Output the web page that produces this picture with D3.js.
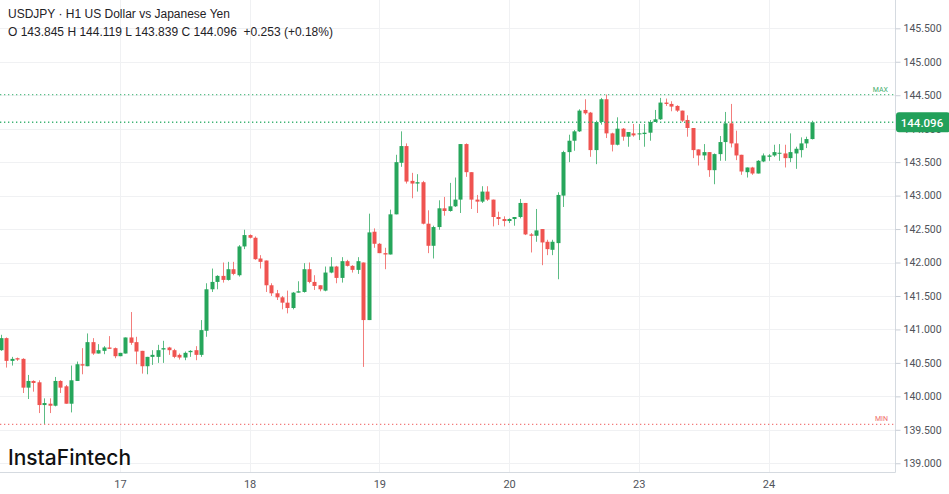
<!DOCTYPE html>
<html>
<head>
<meta charset="utf-8">
<script src="https://cdn.jsdelivr.net/npm/d3@7"></script>
<style>
  html, body { margin: 0; padding: 0; background: #ffffff; }
  svg { display: block; }
</style>
</head>
<body>
<svg id="chart" width="949" height="494"></svg>
<script>
// ---- DATA (USDJPY H1 candles) ----
const openP = [
140.69,140.87,140.53,140.57,140.56,140.13,140.23,140.21,139.87,139.89,
139.86,140.23,140.15,139.89,140.23,140.48,140.45,140.81,140.64,140.68,
140.73,140.72,140.60,140.64,140.88,140.81,140.68,140.45,140.59,140.59,
140.70,140.73,140.69,140.62,140.58,140.66,140.69,140.62,140.98,141.60,
141.71,141.80,141.74,141.90,141.81,142.24,142.41,142.37,142.06,142.03,
141.66,141.54,141.48,141.40,141.32,141.55,141.56,141.90,141.71,141.66,
141.58,141.85,141.94,141.77,142.02,141.95,141.89,142.00,141.14,142.46,
142.28,142.14,142.12,142.72,143.49,143.74,143.22,143.18,143.20,142.58,
142.25,142.53,142.81,142.77,142.84,142.94,143.77,143.35,142.94,142.91,
143.06,142.94,142.68,142.65,142.62,142.65,142.68,142.89,142.42,142.40,
142.50,142.31,142.19,142.29,143.00,143.65,143.82,143.96,144.28,144.24,
143.68,144.10,144.44,143.93,143.76,144.00,143.88,143.93,143.92,143.92,
143.94,144.10,144.14,144.39,144.37,144.34,144.27,144.13,144.01,143.69,
143.60,143.65,143.38,143.62,143.80,144.08,143.78,143.61,143.35,143.42,
143.33,143.51,143.58,143.60,143.63,143.63,143.56,143.63,143.68,143.78,
143.845];
const highP = [
140.92,140.88,140.59,140.58,140.57,140.32,140.24,140.24,139.97,139.97,
140.29,140.24,140.17,140.46,140.52,140.72,140.94,140.87,140.78,140.75,
140.90,140.73,140.65,140.88,141.26,140.89,140.68,140.59,140.69,140.77,
140.83,140.74,140.71,140.64,140.67,140.69,140.75,141.14,141.69,141.91,
141.81,142.00,142.01,142.01,142.26,142.49,142.42,142.39,142.11,142.03,
141.69,141.59,141.50,141.58,141.56,141.72,141.99,142.00,141.81,141.66,
141.94,142.08,141.95,142.08,142.04,141.96,142.08,142.00,142.73,142.51,
142.29,142.22,142.79,143.61,143.96,143.78,143.34,143.32,143.22,142.78,
142.55,142.93,142.98,143.19,143.27,143.77,143.78,143.35,143.01,143.14,
143.14,142.94,142.76,142.69,142.66,142.68,142.95,142.89,142.44,142.80,
142.50,142.34,142.34,143.05,143.67,143.91,143.98,144.29,144.44,144.25,
144.12,144.46,144.51,143.94,144.17,144.01,143.95,144.07,144.07,144.07,
144.13,144.28,144.46,144.45,144.41,144.35,144.27,144.20,144.01,143.69,
143.77,143.65,143.63,143.89,144.25,144.37,143.97,143.61,143.42,143.43,
143.53,143.63,143.62,143.76,143.77,143.76,143.93,143.73,143.87,143.88,
144.119];
const lowP = [
140.68,140.43,140.46,140.53,140.05,139.96,140.07,139.75,139.58,139.75,
139.85,140.05,139.89,139.76,140.23,140.33,140.45,140.62,140.64,140.63,
140.71,140.57,140.60,140.64,140.77,140.48,140.34,140.33,140.47,140.50,
140.50,140.62,140.57,140.55,140.54,140.59,140.54,140.59,140.89,141.56,
141.60,141.70,141.73,141.81,141.79,142.20,142.36,142.04,141.91,141.56,
141.50,141.44,141.30,141.24,141.30,141.55,141.55,141.69,141.59,141.57,
141.57,141.84,141.69,141.70,141.94,141.85,141.83,140.44,141.14,142.22,
142.14,141.90,142.12,142.72,143.43,143.18,142.96,143.06,142.57,142.14,
142.06,142.49,142.70,142.76,142.83,142.74,143.28,142.80,142.74,142.89,
142.92,142.54,142.56,142.54,142.59,142.55,142.66,142.41,142.15,142.31,
141.96,142.11,142.11,141.75,142.83,143.50,143.67,143.95,144.21,143.58,
143.47,144.06,143.86,143.66,143.75,143.82,143.73,143.88,143.83,143.73,
143.82,144.10,144.13,144.34,144.26,144.25,144.10,143.88,143.56,143.45,
143.53,143.28,143.17,143.52,143.52,143.72,143.53,143.31,143.27,143.31,
143.33,143.50,143.52,143.58,143.52,143.42,143.50,143.40,143.57,143.71,
143.839];
const closeP = [
140.87,140.53,140.56,140.55,140.13,140.23,140.20,139.87,139.90,139.86,
140.23,140.13,139.89,140.24,140.48,140.46,140.81,140.64,140.69,140.73,
140.71,140.60,140.65,140.88,140.80,140.67,140.45,140.59,140.62,140.69,
140.72,140.69,140.59,140.58,140.65,140.68,140.62,140.99,141.60,141.71,
141.80,141.74,141.90,141.83,142.24,142.41,142.37,142.05,142.01,141.66,
141.54,141.48,141.40,141.32,141.55,141.57,141.90,141.71,141.65,141.60,
141.85,141.94,141.77,142.02,141.95,141.89,142.02,141.14,142.45,142.28,
142.14,142.12,142.72,143.50,143.74,143.21,143.18,143.20,142.58,142.25,
142.53,142.81,142.77,142.84,142.94,143.77,143.35,142.94,142.91,143.06,
142.94,142.68,142.65,142.62,142.65,142.68,142.89,142.42,142.40,142.48,
142.30,142.20,142.31,143.01,143.65,143.82,143.96,144.27,144.23,143.68,
144.10,144.44,143.93,143.76,144.00,143.88,143.95,143.90,143.93,143.94,
144.10,144.14,144.39,144.37,144.33,144.27,144.12,144.01,143.68,143.60,
143.65,143.38,143.62,143.80,144.08,143.78,143.60,143.36,143.42,143.33,
143.52,143.60,143.60,143.65,143.64,143.56,143.65,143.70,143.78,143.845,
144.096];

// day separators: candle index where each day starts, and its label
const dayStartIndex = [22, 46, 70, 94, 118, 142];
const dayLabels = ["17", "18", "19", "20", "23", "24"];

// price axis ticks
const priceTicks = [139.0,139.5,140.0,140.5,141.0,141.5,142.0,142.5,143.0,143.5,144.0,144.5,145.0,145.5];

const titleText = "USDJPY \u00B7 H1 US Dollar vs Japanese Yen";
const ohlcText = "O 143.845 H 144.119 L 143.839 C 144.096  +0.253 (+0.18%)";
const lastPrice = 144.096;

// ---- LAYOUT ----
const W = 949, H = 494;
const plotRight = 895.5, plotBottom = 472.5;
const GREEN = "#26a65b", RED = "#ef5350";

const svg = d3.select("#chart");

const x = d3.scaleLinear().domain([0, 150]).range([1, 1 + 150 * 5.405]);
const y = d3.scaleLinear().domain([138.862, 145.923]).range([plotBottom, 0]);

// gridlines
const grid = svg.append("g");
grid.selectAll("line.h").data(priceTicks).join("line")
  .attr("x1", 0).attr("x2", plotRight)
  .attr("y1", d => Math.round(y(d)) + 0.5).attr("y2", d => Math.round(y(d)) + 0.5)
  .attr("stroke", "#f0f1f3").attr("stroke-width", 1);
grid.selectAll("line.v").data(dayStartIndex).join("line")
  .attr("x1", d => Math.round(x(d)) + 0.5).attr("x2", d => Math.round(x(d)) + 0.5)
  .attr("y1", 0).attr("y2", plotBottom)
  .attr("stroke", "#f0f1f3").attr("stroke-width", 1);

// candles
const idx = d3.range(openP.length);
const candles = svg.append("g");
candles.selectAll("line.wick").data(idx).join("line")
  .attr("x1", i => Math.round(x(i)) + 0.5).attr("x2", i => Math.round(x(i)) + 0.5)
  .attr("y1", i => y(highP[i])).attr("y2", i => y(lowP[i]))
  .attr("stroke", i => closeP[i] >= openP[i] ? GREEN : RED)
  .attr("stroke-opacity", 0.75)
  .attr("stroke-width", 1);
candles.selectAll("rect.body").data(idx).join("rect")
  .attr("x", i => Math.round(x(i)) + 0.5 - 2)
  .attr("width", 4)
  .attr("y", i => y(Math.max(openP[i], closeP[i])))
  .attr("height", i => Math.max(1, Math.abs(y(openP[i]) - y(closeP[i]))))
  .attr("fill", i => closeP[i] >= openP[i] ? GREEN : RED);

// max / min / last price dotted lines
const maxHigh = d3.max(highP), minLow = d3.min(lowP);
const refs = svg.append("g");
refs.append("line").attr("x1", 0).attr("x2", plotRight)
  .attr("y1", y(maxHigh)).attr("y2", y(maxHigh))
  .attr("stroke", "#5cc08a").attr("stroke-width", 1.2).attr("stroke-dasharray", "1.3,2.7");
refs.append("line").attr("x1", 0).attr("x2", plotRight)
  .attr("y1", y(minLow)).attr("y2", y(minLow))
  .attr("stroke", "#f27b7b").attr("stroke-width", 1.2).attr("stroke-dasharray", "1.3,2.7");
refs.append("line").attr("x1", 0).attr("x2", plotRight)
  .attr("y1", y(lastPrice)).attr("y2", y(lastPrice))
  .attr("stroke", "#3fb374").attr("stroke-width", 1.3).attr("stroke-dasharray", "1.3,2.7");
refs.append("text").attr("x", 888).attr("y", y(maxHigh) - 3)
  .attr("text-anchor", "end").attr("font-family", "Roboto, sans-serif").attr("font-size", 7)
  .attr("fill", "#3fae6d").text("MAX");
refs.append("text").attr("x", 888).attr("y", y(minLow) - 3)
  .attr("text-anchor", "end").attr("font-family", "Roboto, sans-serif").attr("font-size", 7)
  .attr("fill", "#ef6b6b").text("MIN");

// plot borders
svg.append("line").attr("x1", plotRight).attr("x2", plotRight).attr("y1", 0).attr("y2", plotBottom)
  .attr("stroke", "#d5dae0");
svg.append("line").attr("x1", 0).attr("x2", plotRight).attr("y1", plotBottom).attr("y2", plotBottom)
  .attr("stroke", "#d5dae0");

// y axis (right)
const yAxis = d3.axisRight(y).tickValues(priceTicks).tickFormat(d3.format(".3f"))
  .tickSize(5).tickPadding(3);
const gy = svg.append("g").attr("transform", `translate(${plotRight},0)`).call(yAxis);
gy.select(".domain").remove();
gy.selectAll(".tick line").attr("stroke", "#c9ced6");
gy.selectAll(".tick text").attr("font-family", "Roboto, sans-serif").attr("font-size", 10.5)
  .attr("fill", "#50535a");

// x axis (bottom)
const xAxis = d3.axisBottom(x).tickValues(dayStartIndex).tickFormat((d, i) => dayLabels[i])
  .tickSize(0).tickPadding(8);
const gx = svg.append("g").attr("transform", `translate(0,${plotBottom})`).call(xAxis);
gx.select(".domain").remove();
gx.selectAll(".tick text").attr("font-family", "Roboto, sans-serif").attr("font-size", 11)
  .attr("fill", "#50535a");

// last price label
const lp = svg.append("g");
lp.append("rect").attr("x", plotRight + 0.5).attr("y", y(lastPrice) - 10).attr("width", 54).attr("height", 20)
  .attr("rx", 3).attr("fill", "#22a05a");
lp.append("text").attr("x", plotRight + 26.5).attr("y", y(lastPrice) + 4.5)
  .attr("text-anchor", "middle").attr("font-family", "Roboto, sans-serif").attr("font-size", 11.5)
  .attr("font-weight", 500).attr("fill", "#ffffff").text(d3.format(".3f")(lastPrice));

// header
svg.append("text").attr("x", 8).attr("y", 18).attr("font-family", "'Liberation Sans', Arial, sans-serif")
  .attr("font-size", 12).attr("fill", "#1f2226").text(titleText);
svg.append("text").attr("x", 8).attr("y", 36).attr("font-family", "'Liberation Sans', Arial, sans-serif")
  .attr("font-size", 12).attr("fill", "#1f2226").attr("xml:space", "preserve")
  .style("white-space", "pre").text(ohlcText);

// logo
svg.append("text").attr("x", 8).attr("y", 465).attr("font-family", "Inter, 'Noto Sans', sans-serif")
  .attr("font-size", 21).attr("font-weight", 500).attr("fill", "#111111")
  .attr("textLength", 123).attr("lengthAdjust", "spacingAndGlyphs").text("InstaFintech");
</script>
</body>
</html>
